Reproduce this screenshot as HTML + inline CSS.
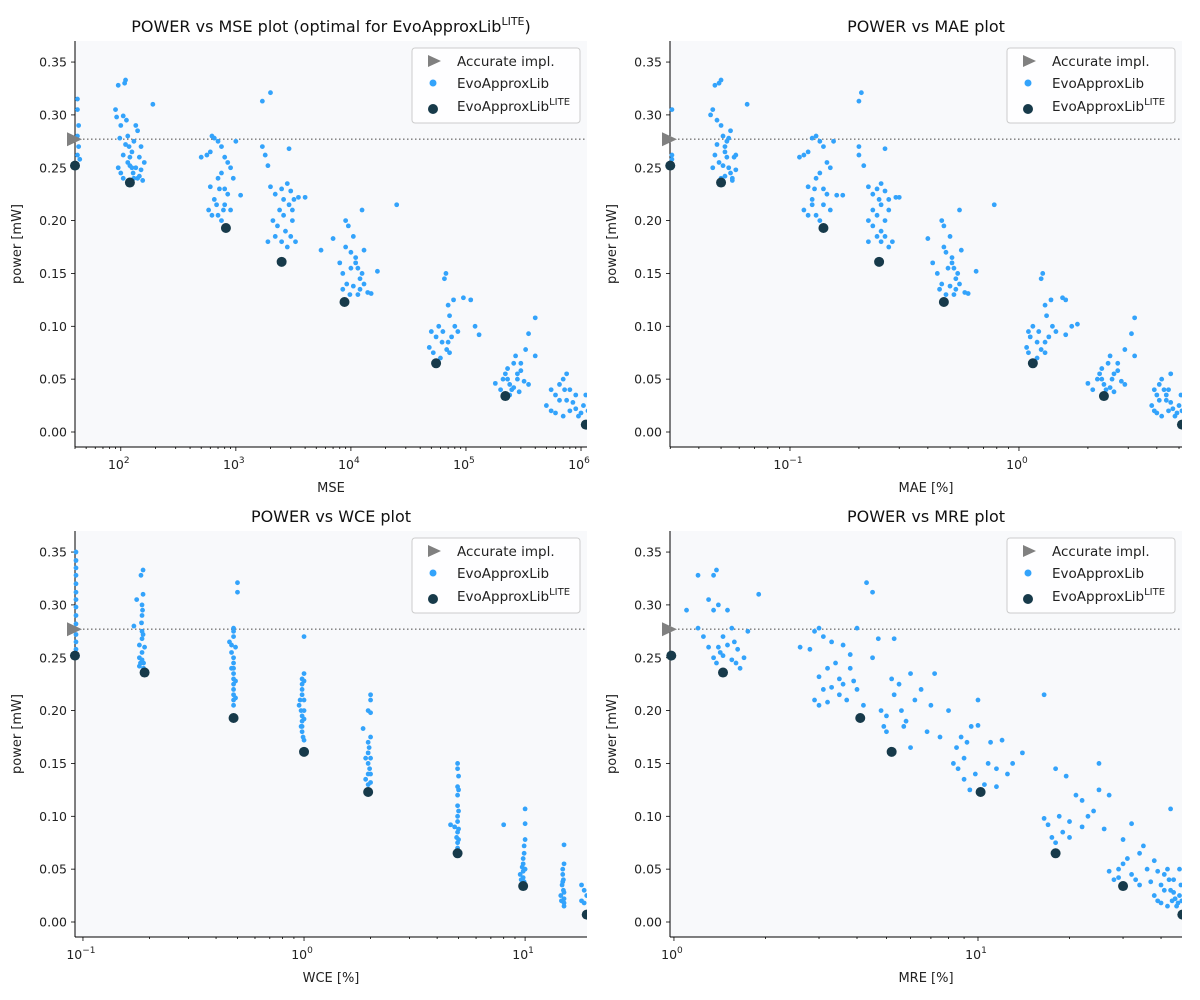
<!DOCTYPE html>
<html><head><meta charset="utf-8">
<style>
html,body{margin:0;padding:0;background:#fff;}
svg{display:block;font-family:"DejaVu Sans","Liberation Sans",sans-serif;}
</style></head>
<body>
<svg id="fig" width="1200" height="1000" viewBox="0 0 1200 1000" xmlns="http://www.w3.org/2000/svg"></svg>
<script>
const yTicks = [0.00,0.05,0.10,0.15,0.20,0.25,0.35,0.30];
const accuratePower = 0.277;

const mseLite = [[40,0.252],[120,0.236],[820,0.193],[2500,0.161],[8800,0.123],[55000,0.065],[220000,0.034],[1100000,0.007]];
const maeLite = [[0.03,0.252],[0.05,0.236],[0.14,0.193],[0.245,0.161],[0.47,0.123],[1.15,0.065],[2.35,0.034],[5.15,0.007]];
const wceLite = [[0.092,0.252],[0.19,0.236],[0.48,0.193],[1.0,0.161],[1.95,0.123],[4.95,0.065],[9.8,0.034],[19,0.007]];
const mreLite = [[0.98,0.252],[1.45,0.236],[4.1,0.193],[5.2,0.161],[10.2,0.123],[18,0.065],[30,0.034],[47,0.007]];

const msePts = [[42,0.315],[42,0.305],[43,0.29],[42,0.28],[43,0.27],[42,0.262],[44,0.258],
[90,0.305],[92,0.298],[95,0.328],[100,0.29],[105,0.299],[108,0.33],[110,0.333],[112,0.295],[115,0.28],[118,0.27],[120,0.26],[125,0.25],[128,0.245],[130,0.24],[135,0.29],[140,0.285],[145,0.26],[150,0.248],[155,0.238],[95,0.25],[100,0.245],[105,0.262],[110,0.272],[115,0.255],[120,0.252],[125,0.265],[130,0.275],[140,0.24],[150,0.27],[160,0.255],[190,0.31],[105,0.24],[98,0.278],[135,0.25],[145,0.242],
[500,0.26],[560,0.262],[600,0.265],[620,0.28],[650,0.278],[700,0.275],[750,0.27],[800,0.26],[850,0.255],[900,0.25],[1000,0.275],[600,0.232],[650,0.22],[700,0.24],[750,0.245],[800,0.23],[850,0.225],[900,0.21],[580,0.21],[620,0.205],[700,0.205],[750,0.2],[800,0.215],[680,0.215],[720,0.23],[950,0.24],[1100,0.224],[780,0.21],
[1700,0.313],[2000,0.321],[1700,0.27],[1800,0.262],[1900,0.252],[2000,0.232],[2200,0.225],[2500,0.23],[2800,0.235],[3000,0.228],[3200,0.22],[2400,0.21],[2600,0.205],[2900,0.215],[3100,0.2],[2100,0.2],[2300,0.195],[2700,0.19],[3000,0.185],[3300,0.18],[1900,0.18],[2200,0.185],[2500,0.18],[2800,0.175],[3500,0.222],[4000,0.222],[2900,0.268],[3100,0.21],[2600,0.22],[5500,0.172],[25000,0.215],
[7000,0.183],[8000,0.16],[8500,0.15],[9000,0.2],[9500,0.195],[10000,0.17],[10500,0.185],[11000,0.165],[11500,0.155],[12000,0.145],[12500,0.21],[13000,0.172],[9200,0.14],[9800,0.13],[10500,0.138],[11500,0.13],[12000,0.135],[13000,0.14],[14000,0.132],[15000,0.131],[17000,0.152],[8500,0.135],[9000,0.175],[10000,0.155],[11000,0.16],[12500,0.15],
[48000,0.08],[52000,0.075],[55000,0.09],[58000,0.1],[62000,0.085],[65000,0.145],[67000,0.15],[70000,0.12],[72000,0.11],[75000,0.09],[78000,0.125],[80000,0.1],[85000,0.095],[60000,0.07],[68000,0.078],[72000,0.075],[95000,0.127],[110000,0.125],[120000,0.1],[130000,0.092],[50000,0.095],[63000,0.095],[70000,0.085],[350000,0.093],[400000,0.108],[400000,0.072],
[180000,0.046],[200000,0.04],[210000,0.05],[220000,0.055],[230000,0.06],[240000,0.045],[250000,0.04],[260000,0.065],[270000,0.072],[280000,0.05],[290000,0.038],[300000,0.058],[320000,0.048],[350000,0.045],[240000,0.035],[260000,0.042],[280000,0.055],[300000,0.065],[330000,0.078],[230000,0.05],
[500000,0.025],[550000,0.02],[600000,0.035],[650000,0.045],[700000,0.05],[720000,0.04],[750000,0.03],[800000,0.02],[850000,0.028],[900000,0.022],[950000,0.015],[1000000,0.018],[1050000,0.025],[1100000,0.035],[1150000,0.02],[600000,0.018],[700000,0.015],[800000,0.04],[550000,0.04],[650000,0.03],[750000,0.055],[1200000,0.072],[900000,0.035]];

const maePts = [[0.0305,0.305],[0.0305,0.262],[0.0305,0.258],
[0.045,0.3],[0.046,0.305],[0.047,0.328],[0.048,0.295],[0.049,0.33],[0.05,0.333],[0.05,0.29],[0.051,0.28],[0.052,0.27],[0.053,0.26],[0.054,0.25],[0.055,0.245],[0.056,0.24],[0.057,0.26],[0.058,0.248],[0.046,0.25],[0.047,0.262],[0.048,0.272],[0.049,0.255],[0.051,0.252],[0.052,0.265],[0.053,0.275],[0.055,0.285],[0.056,0.238],[0.05,0.24],[0.052,0.242],[0.065,0.31],[0.054,0.278],[0.058,0.262],
[0.11,0.26],[0.115,0.262],[0.12,0.265],[0.125,0.278],[0.13,0.28],[0.135,0.275],[0.14,0.27],[0.145,0.255],[0.15,0.25],[0.155,0.275],[0.12,0.232],[0.125,0.22],[0.13,0.24],[0.135,0.245],[0.14,0.23],[0.145,0.225],[0.15,0.21],[0.115,0.21],[0.12,0.205],[0.13,0.205],[0.135,0.2],[0.14,0.215],[0.125,0.215],[0.128,0.23],[0.16,0.224],[0.17,0.224],
[0.2,0.313],[0.205,0.321],[0.2,0.27],[0.2,0.262],[0.21,0.252],[0.22,0.232],[0.23,0.225],[0.24,0.23],[0.25,0.235],[0.26,0.228],[0.27,0.22],[0.23,0.21],[0.24,0.205],[0.25,0.215],[0.26,0.2],[0.22,0.2],[0.23,0.195],[0.25,0.19],[0.26,0.185],[0.28,0.18],[0.22,0.18],[0.24,0.185],[0.25,0.18],[0.27,0.175],[0.29,0.222],[0.3,0.222],[0.26,0.268],[0.27,0.21],[0.245,0.22],
[0.4,0.183],[0.42,0.16],[0.44,0.15],[0.46,0.2],[0.47,0.195],[0.48,0.17],[0.5,0.185],[0.51,0.165],[0.52,0.155],[0.53,0.145],[0.55,0.21],[0.56,0.172],[0.46,0.14],[0.48,0.13],[0.5,0.138],[0.52,0.13],[0.53,0.135],[0.55,0.14],[0.58,0.132],[0.6,0.131],[0.65,0.152],[0.45,0.135],[0.47,0.175],[0.49,0.155],[0.51,0.16],[0.54,0.15],[0.78,0.215],
[1.08,0.08],[1.1,0.075],[1.12,0.09],[1.15,0.1],[1.2,0.085],[1.25,0.145],[1.27,0.15],[1.3,0.12],[1.32,0.11],[1.35,0.09],[1.38,0.125],[1.4,0.1],[1.45,0.095],[1.2,0.07],[1.25,0.078],[1.3,0.075],[1.55,0.127],[1.6,0.125],[1.7,0.1],[1.6,0.092],[1.1,0.095],[1.22,0.095],[1.3,0.085],[1.8,0.102],
[2.0,0.046],[2.1,0.04],[2.2,0.05],[2.25,0.055],[2.3,0.06],[2.35,0.045],[2.4,0.04],[2.45,0.065],[2.5,0.072],[2.55,0.05],[2.6,0.038],[2.7,0.058],[2.8,0.048],[2.9,0.045],[2.4,0.035],[2.5,0.042],[2.6,0.055],[2.7,0.065],[2.9,0.078],[3.1,0.093],[3.2,0.108],[3.2,0.072],[2.3,0.05],
[3.8,0.025],[3.9,0.02],[4.0,0.035],[4.1,0.045],[4.2,0.05],[4.3,0.04],[4.4,0.03],[4.5,0.02],[4.6,0.028],[4.7,0.022],[4.8,0.015],[4.9,0.018],[5.0,0.025],[5.1,0.035],[5.15,0.02],[4.0,0.018],[4.2,0.015],[4.5,0.04],[3.9,0.04],[4.1,0.03],[4.6,0.055],[4.4,0.035]];

const wcePts = [[0.093,0.35],[0.093,0.342],[0.093,0.335],[0.093,0.328],[0.093,0.32],[0.093,0.312],[0.093,0.305],[0.093,0.298],[0.093,0.29],[0.093,0.282],[0.093,0.272],[0.093,0.265],[0.093,0.258],
[0.17,0.28],[0.175,0.305],[0.18,0.262],[0.18,0.25],[0.18,0.242],[0.183,0.328],[0.185,0.3],[0.185,0.29],[0.187,0.333],[0.187,0.31],[0.185,0.275],[0.185,0.268],[0.185,0.255],[0.185,0.248],[0.188,0.245],[0.188,0.24],[0.19,0.26],[0.186,0.295],[0.184,0.283],[0.187,0.272],[0.182,0.245],
[0.46,0.265],[0.47,0.262],[0.47,0.255],[0.48,0.278],[0.48,0.275],[0.48,0.27],[0.48,0.25],[0.48,0.245],[0.48,0.24],[0.48,0.235],[0.48,0.23],[0.48,0.225],[0.48,0.22],[0.48,0.215],[0.48,0.21],[0.48,0.205],[0.49,0.26],[0.49,0.228],[0.49,0.212],[0.5,0.312],[0.5,0.321],[0.47,0.24],
[0.95,0.205],[0.96,0.21],[0.97,0.2],[0.98,0.23],[0.98,0.225],[0.98,0.22],[0.98,0.215],[0.98,0.195],[0.98,0.19],[0.98,0.185],[0.98,0.18],[0.99,0.175],[1.0,0.235],[1.0,0.228],[1.0,0.21],[1.0,0.2],[1.0,0.192],[1.0,0.27],[1.0,0.172],[0.97,0.185],
[1.85,0.183],[1.9,0.155],[1.9,0.135],[1.95,0.2],[1.95,0.17],[1.95,0.16],[1.95,0.15],[1.95,0.14],[1.95,0.13],[1.97,0.165],[1.98,0.145],[2.0,0.215],[2.0,0.21],[2.0,0.198],[2.0,0.175],[2.0,0.155],[2.0,0.14],[2.0,0.132],
[4.6,0.092],[4.8,0.09],[4.9,0.08],[4.95,0.15],[4.95,0.145],[4.95,0.128],[4.95,0.12],[4.95,0.11],[4.95,0.1],[4.95,0.095],[4.95,0.085],[4.95,0.075],[4.95,0.07],[5.0,0.138],[5.0,0.125],[5.0,0.105],[5.0,0.088],[5.0,0.078],
[8.0,0.092],[9.5,0.045],[9.6,0.04],[9.7,0.052],[9.8,0.06],[9.8,0.055],[9.8,0.048],[9.8,0.042],[9.9,0.065],[9.9,0.072],[9.9,0.038],[10,0.078],[10,0.107],[10,0.093],[10,0.05],[9.7,0.035],
[14.5,0.025],[14.6,0.02],[14.7,0.035],[14.8,0.045],[14.8,0.05],[14.9,0.04],[14.9,0.03],[15,0.018],[15,0.028],[15,0.022],[15,0.015],[15,0.055],[15,0.073],[14.8,0.038],[18,0.02],[18.5,0.018],[19,0.025],[18,0.035],[18.5,0.03]];

const mrePts = [[1.1,0.295],[1.2,0.328],[1.2,0.278],[1.25,0.27],[1.3,0.305],[1.35,0.328],[1.38,0.333],[1.35,0.295],[1.4,0.3],[1.3,0.26],[1.35,0.25],[1.38,0.245],[1.4,0.26],[1.42,0.255],[1.45,0.252],[1.5,0.262],[1.5,0.295],[1.55,0.248],[1.55,0.278],[1.6,0.245],[1.65,0.24],[1.7,0.25],[1.75,0.275],[1.9,0.31],[1.45,0.27],[1.58,0.265],[1.62,0.258],
[2.6,0.26],[2.8,0.258],[2.9,0.275],[3.0,0.278],[3.0,0.232],[3.1,0.22],[3.2,0.24],[3.3,0.265],[3.4,0.245],[3.5,0.23],[3.6,0.225],[3.7,0.21],[3.8,0.253],[3.9,0.228],[4.0,0.278],[2.9,0.21],[3.0,0.205],[3.2,0.208],[3.3,0.222],[3.5,0.215],[3.6,0.262],[3.8,0.24],[4.0,0.22],[4.2,0.205],[4.5,0.25],[3.1,0.27],
[4.3,0.321],[4.5,0.312],[4.8,0.2],[5.0,0.195],[5.0,0.18],[5.2,0.23],[5.3,0.215],[5.5,0.225],[5.6,0.2],[5.8,0.19],[6.0,0.235],[6.2,0.21],[6.5,0.22],[7.0,0.205],[7.2,0.235],[6.8,0.18],[5.7,0.185],[6.0,0.165],[7.5,0.175],[4.7,0.268],[5.3,0.268],[4.9,0.185],
[8.0,0.2],[8.3,0.15],[8.5,0.165],[8.8,0.175],[9.0,0.155],[9.2,0.17],[9.5,0.185],[9.8,0.14],[10,0.186],[10,0.21],[10.5,0.13],[10.8,0.15],[11,0.17],[11.5,0.145],[12,0.172],[12.5,0.14],[13,0.15],[14,0.16],[9.0,0.135],[9.4,0.125],[8.6,0.145],[11.5,0.128],
[16.5,0.215],[16.5,0.098],[17,0.092],[17.5,0.08],[18,0.145],[18.5,0.1],[19,0.085],[19.5,0.138],[20,0.08],[21,0.12],[22,0.09],[22,0.115],[23,0.1],[24,0.105],[25,0.125],[25,0.15],[26,0.088],[27,0.12],[18,0.075],[20,0.095],
[27,0.048],[28,0.04],[29,0.05],[30,0.055],[31,0.06],[32,0.045],[33,0.04],[34,0.065],[35,0.072],[30,0.078],[32,0.093],[36,0.05],[37,0.038],[38,0.058],[39,0.048],[29,0.042],[34,0.035],
[38,0.025],[39,0.02],[40,0.035],[41,0.045],[42,0.05],[42.5,0.04],[43,0.03],[43.5,0.02],[44,0.028],[44.5,0.022],[45,0.015],[45.5,0.018],[46,0.025],[46.5,0.035],[46.8,0.02],[40,0.018],[42,0.015],[44,0.04],[41,0.03],[43,0.107],[46,0.05]];

const NS = "http://www.w3.org/2000/svg";
const fig = document.getElementById('fig');
function mk(tag, attrs, parent){ const e=document.createElementNS(NS,tag); for(const k in attrs) e.setAttribute(k,attrs[k]); (parent||fig).appendChild(e); return e; }

const panels = [
 {key:'mse', x0:75,x1:587,y0:41,y1:447, zeroY:432, lmin:Math.log10(40), lmax:6.052, ticks:[2,3,4,5,6], xlabel:'MSE', title:'POWER vs MSE plot (optimal for EvoApproxLib', titleSup:true, pts:msePts, lite:mseLite},
 {key:'mae', x0:670,x1:1182,y0:41,y1:447, zeroY:432, lmin:-1.524, lmax:0.712, ticks:[-1,0], xlabel:'MAE [%]', title:'POWER vs MAE plot', pts:maePts, lite:maeLite},
 {key:'wce', x0:75,x1:587,y0:531,y1:937, zeroY:922, lmin:-1.036, lmax:1.28, ticks:[-1,0,1], xlabel:'WCE [%]', title:'POWER vs WCE plot', pts:wcePts, lite:wceLite},
 {key:'mre', x0:670,x1:1182,y0:531,y1:937, zeroY:922, lmin:-0.013, lmax:1.671, ticks:[0,1], xlabel:'MRE [%]', title:'POWER vs MRE plot', pts:mrePts, lite:mreLite}
];

panels.forEach(p=>{
  const g = mk('g',{});
  
  
  const xs = v => p.x0 + (Math.log10(v)-p.lmin)/(p.lmax-p.lmin)*(p.x1-p.x0);
  const ys = v => p.zeroY - v*1057;
  const clipId = 'clip-'+p.key;
  const cp = mk('clipPath',{id:clipId}, g); mk('rect',{x:p.x0-10,y:p.y0,width:p.x1-p.x0+10,height:p.y1-p.y0},cp);
  const bg = mk('rect',{x:p.x0,y:p.y0,width:p.x1-p.x0,height:p.y1-p.y0,fill:'#f8f9fb'},g);
  
  
  // y ticks
  yTicks.forEach(t=>{
    const y=ys(t);
    mk('line',{x1:p.x0-4,x2:p.x0,y1:y,y2:y,stroke:'#000','stroke-width':0.8},g);
    const tx=mk('text',{x:p.x0-8,y:y+4.5,'text-anchor':'end','font-size':12.5,fill:'#222'},g);
    tx.textContent=t.toFixed(2);
    
    
  });
  // x ticks major & minor
  for(let d=Math.floor(p.lmin); d<=Math.ceil(p.lmax); d++){
    for(let m=1;m<10;m++){
      const lv=d+Math.log10(m);
      if(lv<p.lmin-1e-6||lv>p.lmax+1e-6) continue;
      const x=p.x0+(lv-p.lmin)/(p.lmax-p.lmin)*(p.x1-p.x0);
      mk('line',{x1:x,x2:x,y1:p.y1,y2:p.y1+(m===1?4:2),stroke:'#000','stroke-width':0.8},g);
    }
  }
  p.ticks.forEach(d=>{
    const x=p.x0+(d-p.lmin)/(p.lmax-p.lmin)*(p.x1-p.x0);
    const tx=mk('text',{x:x-2,y:p.y1+22,'text-anchor':'middle','font-size':12.5,fill:'#222'},g);
    
    
    tx.appendChild(document.createTextNode('10'));
    const s=mk('tspan',{dy:-6,'font-size':9},tx); s.textContent=String(d).replace('-','\u2212');
  });
  // spines
  mk('line',{x1:p.x0,x2:p.x0,y1:p.y0,y2:p.y1,stroke:'#000','stroke-width':1},g);
  mk('line',{x1:p.x0,x2:p.x1,y1:p.y1,y2:p.y1,stroke:'#000','stroke-width':1},g);
  // labels
  const xl=mk('text',{x:(p.x0+p.x1)/2,y:p.y1+45,'text-anchor':'middle','font-size':13,fill:'#222'},g);
  xl.textContent=p.xlabel;
  
  
  const yl=mk('text',{x:0,y:0,'text-anchor':'middle','font-size':13,fill:'#222',transform:`translate(${p.x0-54},${(p.y0+p.y1)/2}) rotate(-90)`},g);
  yl.textContent='power [mW]';
  
  
  const tt=mk('text',{x:(p.x0+p.x1)/2,y:p.y0-9,'text-anchor':'middle','font-size':16,fill:'#111'},g);
  
  
  tt.appendChild(document.createTextNode(p.title));
  if(p.titleSup){ const s=mk('tspan',{dy:-7,'font-size':11},tt); s.textContent='LITE'; const s2=mk('tspan',{dy:7},tt); s2.textContent=')'; }
  // accurate line
  const ay=ys(accuratePower);
  const al=mk('line',{x1:p.x0,x2:p.x1,y1:ay,y2:ay,stroke:'#777','stroke-width':1.3,'stroke-dasharray':'1.5,2.5'},g);
  
  
  const pg=mk('g',{'clip-path':`url(#${clipId})`},g);
  p.pts.forEach(pt=>{
    const c=mk('circle',{cx:xs(pt[0]),cy:ys(pt[1]),r:2.4,fill:'#33a3fb'},pg);
    
    
  });
  p.lite.forEach(pt=>{
    const c=mk('circle',{cx:xs(pt[0]),cy:ys(pt[1]),r:5,fill:'#173a4a'},pg);
    
    
  });
  const tri=mk('polygon',{points:`${p.x0-8},${ay-7} ${p.x0+7},${ay} ${p.x0-8},${ay+7}`,fill:'#808080'},g);
  
  
  // legend
  const lx=p.x1-175, ly=p.y0+7;
  const lg=mk('g',{},g);
  
  
  mk('rect',{x:lx,y:ly,width:168,height:75,rx:3,fill:'#fff','fill-opacity':0.85,stroke:'#ccc'},lg);
  mk('polygon',{points:`${lx+16},${ly+7} ${lx+29},${ly+13} ${lx+16},${ly+19}`,fill:'#808080'},lg);
  mk('circle',{cx:lx+21,cy:ly+35,r:3.5,fill:'#33a3fb'},lg);
  mk('circle',{cx:lx+21,cy:ly+61,r:5,fill:'#173a4a'},lg);
  const e1=mk('text',{x:lx+45,y:ly+18,'font-size':13.5,fill:'#222'},lg); e1.textContent='Accurate impl.';
  
  
  const e2=mk('text',{x:lx+45,y:ly+40,'font-size':13.5,fill:'#222'},lg); e2.textContent='EvoApproxLib';
  
  
  const e3=mk('text',{x:lx+45,y:ly+63,'font-size':13.5,fill:'#222'},lg); e3.appendChild(document.createTextNode('EvoApproxLib'));
  
  
  const s3=mk('tspan',{dy:-6,'font-size':10},e3); s3.textContent='LITE';
});
</script>
</body></html>
